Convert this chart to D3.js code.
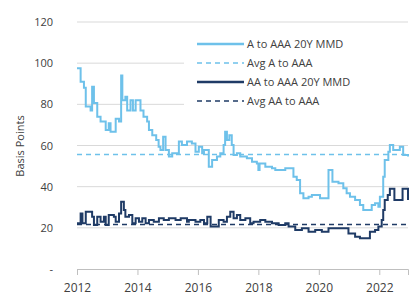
<!DOCTYPE html>
<html>
<head>
<meta charset="utf-8">
<script src="https://cdn.jsdelivr.net/npm/d3@7"></script>
<style>
  body { margin: 0; background: #fff; }
  text { font-family: "Open Sans", "Noto Sans", sans-serif; fill: #404040; }
</style>
</head>
<body>
<div id="chart"></div>
<script>
// A to AAA 20Y MMD spread, basis points (decimal year, value)
var aYears = [2012.0, 2012.12, 2012.23, 2012.29, 2012.45, 2012.5, 2012.56, 2012.67, 2012.78, 2012.95,
  2013.05, 2013.11, 2013.28, 2013.39, 2013.46, 2013.5, 2013.6, 2013.66, 2013.77, 2013.85, 2013.94,
  2014.05, 2014.1, 2014.2, 2014.32, 2014.38, 2014.49, 2014.62, 2014.7, 2014.76, 2014.85, 2014.93,
  2015.04, 2015.15, 2015.37, 2015.47, 2015.64, 2015.8, 2015.92, 2016.03, 2016.14, 2016.2, 2016.36,
  2016.47, 2016.63, 2016.74, 2016.85, 2016.9, 2016.96, 2017.04, 2017.12, 2017.18, 2017.29, 2017.4,
  2017.62, 2017.79, 2017.95, 2018.0, 2018.04, 2018.23, 2018.45, 2018.56, 2018.89, 2019.16, 2019.27,
  2019.38, 2019.49, 2019.66, 2019.77, 2020.04, 2020.32, 2020.45, 2020.65, 2020.81, 2020.92, 2021.03,
  2021.2, 2021.36, 2021.47, 2021.75, 2021.86, 2021.97, 2022.02, 2022.13, 2022.18, 2022.3, 2022.35,
  2022.46, 2022.68, 2022.79, 2022.95];
var aValues = [97.5, 91, 88, 79, 77, 88.6, 80.6, 74, 71.6, 67.5,
  70.8, 66.7, 73, 71.6, 94, 82, 83.7, 77, 82, 77, 82,
  82, 77, 74, 71.6, 67.5, 65, 62.7, 59.4, 57.8, 64.3, 57.8,
  54.6, 56.2, 61.9, 60.3, 61.9, 61, 57, 59.4, 56.2, 57.8, 49.7,
  53, 54.6, 56.2, 60.3, 66.7, 62.7, 65, 60.3, 55.4, 56.2, 54.6,
  53.8, 52.1, 51.3, 48.1, 51.3, 49.7, 48.9, 48.1, 48.9, 44.8, 43.2,
  36.8, 34.4, 35.1, 36, 34.4, 48.1, 42.4, 41.6, 39.2, 36.8, 35.1,
  33.5, 31.1, 28.7, 31.1, 31.9, 30.3, 35.1, 44.8, 53, 57, 60.3,
  57.8, 59.4, 55.4, 54.6];
var aAvg = 55.6;

// AA to AAA 20Y MMD spread, basis points
var aaYears = [2012.0, 2012.12, 2012.18, 2012.29, 2012.5, 2012.56, 2012.67, 2012.78, 2012.89, 2012.95,
  2013.05, 2013.22, 2013.28, 2013.39, 2013.46, 2013.55, 2013.6, 2013.72, 2013.83, 2013.94, 2014.05,
  2014.16, 2014.27, 2014.38, 2014.54, 2014.71, 2014.87, 2015.04, 2015.26, 2015.43, 2015.64, 2015.7,
  2015.92, 2016.08, 2016.2, 2016.31, 2016.42, 2016.69, 2016.85, 2016.96, 2017.07, 2017.18, 2017.29,
  2017.4, 2017.57, 2017.73, 2017.84, 2018.06, 2018.23, 2018.45, 2018.67, 2018.89, 2019.0, 2019.22,
  2019.44, 2019.66, 2019.88, 2020.1, 2020.32, 2020.98, 2021.2, 2021.36, 2021.64, 2021.69, 2021.86,
  2021.97, 2022.08, 2022.13, 2022.18, 2022.28, 2022.35, 2022.5, 2022.77, 2022.95];
var aaValues = [22.2, 27, 22.2, 27.8, 25.4, 21.4, 25.4, 23, 25.4, 21.4,
  26.2, 25.4, 23, 27, 32.7, 28.7, 25.4, 26.2, 22.2, 24.6, 23,
  24.6, 22.2, 23.8, 23, 24.6, 23.8, 24.6, 23.8, 24.6, 23, 23.8,
  23, 23.8, 22.2, 25.4, 20.6, 23.8, 23, 25.4, 27.8, 24.6, 26.2,
  23.8, 24.6, 22.2, 23, 23.8, 23, 22.2, 21.4, 22.2, 20.6, 19,
  19.8, 18.1, 19, 18.1, 19.8, 17.3, 15.7, 14.9, 14.9, 18.1, 19,
  20.6, 23.8, 28.7, 33.5, 36, 39, 33.5, 39, 33.5];
var aaAvg = 21.6;

var yTicks = [0, 20, 40, 60, 80, 100, 120];
var xTicks = [2012, 2014, 2016, 2018, 2020, 2022];
var legendNames = ["A to AAA 20Y MMD", "Avg A to AAA", "AA to AAA 20Y MMD", "Avg AA to AAA"];

var w = 420, h = 304;
var lightBlue = "#6ec1ea", navy = "#1f3b66";

var svg = d3.select("#chart").append("svg").attr("width", w).attr("height", h);

var x = d3.scaleLinear().domain([2012, 2022.95]).range([77, 408]);
var y = d3.scaleLinear().domain([0, 120]).range([269, 22]);

// gridlines
svg.selectAll("line.grid")
  .data(yTicks.filter(function(d) { return d > 0; }))
  .enter().append("line")
  .attr("class", "grid")
  .attr("x1", 77).attr("x2", 408)
  .attr("y1", function(d) { return y(d); })
  .attr("y2", function(d) { return y(d); })
  .attr("stroke", "#d9d9d9").attr("stroke-width", 1);

// y labels
svg.selectAll("text.ylab")
  .data(yTicks)
  .enter().append("text")
  .attr("class", "ylab")
  .attr("x", 53)
  .attr("y", function(d) { return y(d) + 4; })
  .attr("text-anchor", "end")
  .attr("font-size", "11px")
  .text(function(d) { return d === 0 ? "-" : d; });

svg.append("text")
  .attr("transform", "translate(24,146) rotate(-90)")
  .attr("text-anchor", "middle")
  .attr("font-size", "11px")
  .text("Basis Points");

// x axis
var xAxis = d3.axisBottom(x).tickValues(xTicks).tickFormat(d3.format("d")).tickSize(6).tickPadding(8);
var gx = svg.append("g").attr("transform", "translate(0,269)").call(xAxis);
gx.select(".domain").attr("stroke", "#bfbfbf");
gx.selectAll(".tick line").attr("stroke", "#bfbfbf");
gx.selectAll(".tick text").attr("font-size", "12px").attr("fill", "#404040")
  .style("font-family", "'Open Sans', sans-serif");

// series
var aData = aYears.map(function(d, i) { return [d, aValues[i]]; });
var aaData = aaYears.map(function(d, i) { return [d, aaValues[i]]; });

var line = d3.line()
  .x(function(d) { return x(d[0]); })
  .y(function(d) { return y(d[1]); })
  .curve(d3.curveStepAfter);

svg.append("line")
  .attr("x1", x(2012)).attr("x2", x(2022.95))
  .attr("y1", y(aAvg)).attr("y2", y(aAvg))
  .attr("stroke", lightBlue).attr("stroke-width", 1.6).attr("stroke-dasharray", "5,4");

svg.append("line")
  .attr("x1", x(2012)).attr("x2", x(2022.95))
  .attr("y1", y(aaAvg)).attr("y2", y(aaAvg))
  .attr("stroke", navy).attr("stroke-width", 1.6).attr("stroke-dasharray", "5,4");

svg.append("path").datum(aData)
  .attr("d", line).attr("fill", "none")
  .attr("stroke", lightBlue).attr("stroke-width", 2);

svg.append("path").datum(aaData)
  .attr("d", line).attr("fill", "none")
  .attr("stroke", navy).attr("stroke-width", 2);

// legend
var lg = svg.append("g");
lg.append("rect").attr("x", 184).attr("y", 31).attr("width", 228).attr("height", 80).attr("fill", "#fff");
var legendColors = [lightBlue, lightBlue, navy, navy];
var legendDash = [null, "5,4", null, "5,4"];
legendNames.forEach(function(name, i) {
  var ly = 44 + i * 19;
  lg.append("line")
    .attr("x1", 197).attr("x2", 244)
    .attr("y1", ly).attr("y2", ly)
    .attr("stroke", legendColors[i])
    .attr("stroke-width", legendDash[i] ? 1.6 : 2.5)
    .attr("stroke-dasharray", legendDash[i]);
  lg.append("text")
    .attr("x", 247).attr("y", ly + 4)
    .attr("font-size", "11px")
    .text(name);
});
</script>
</body>
</html>
